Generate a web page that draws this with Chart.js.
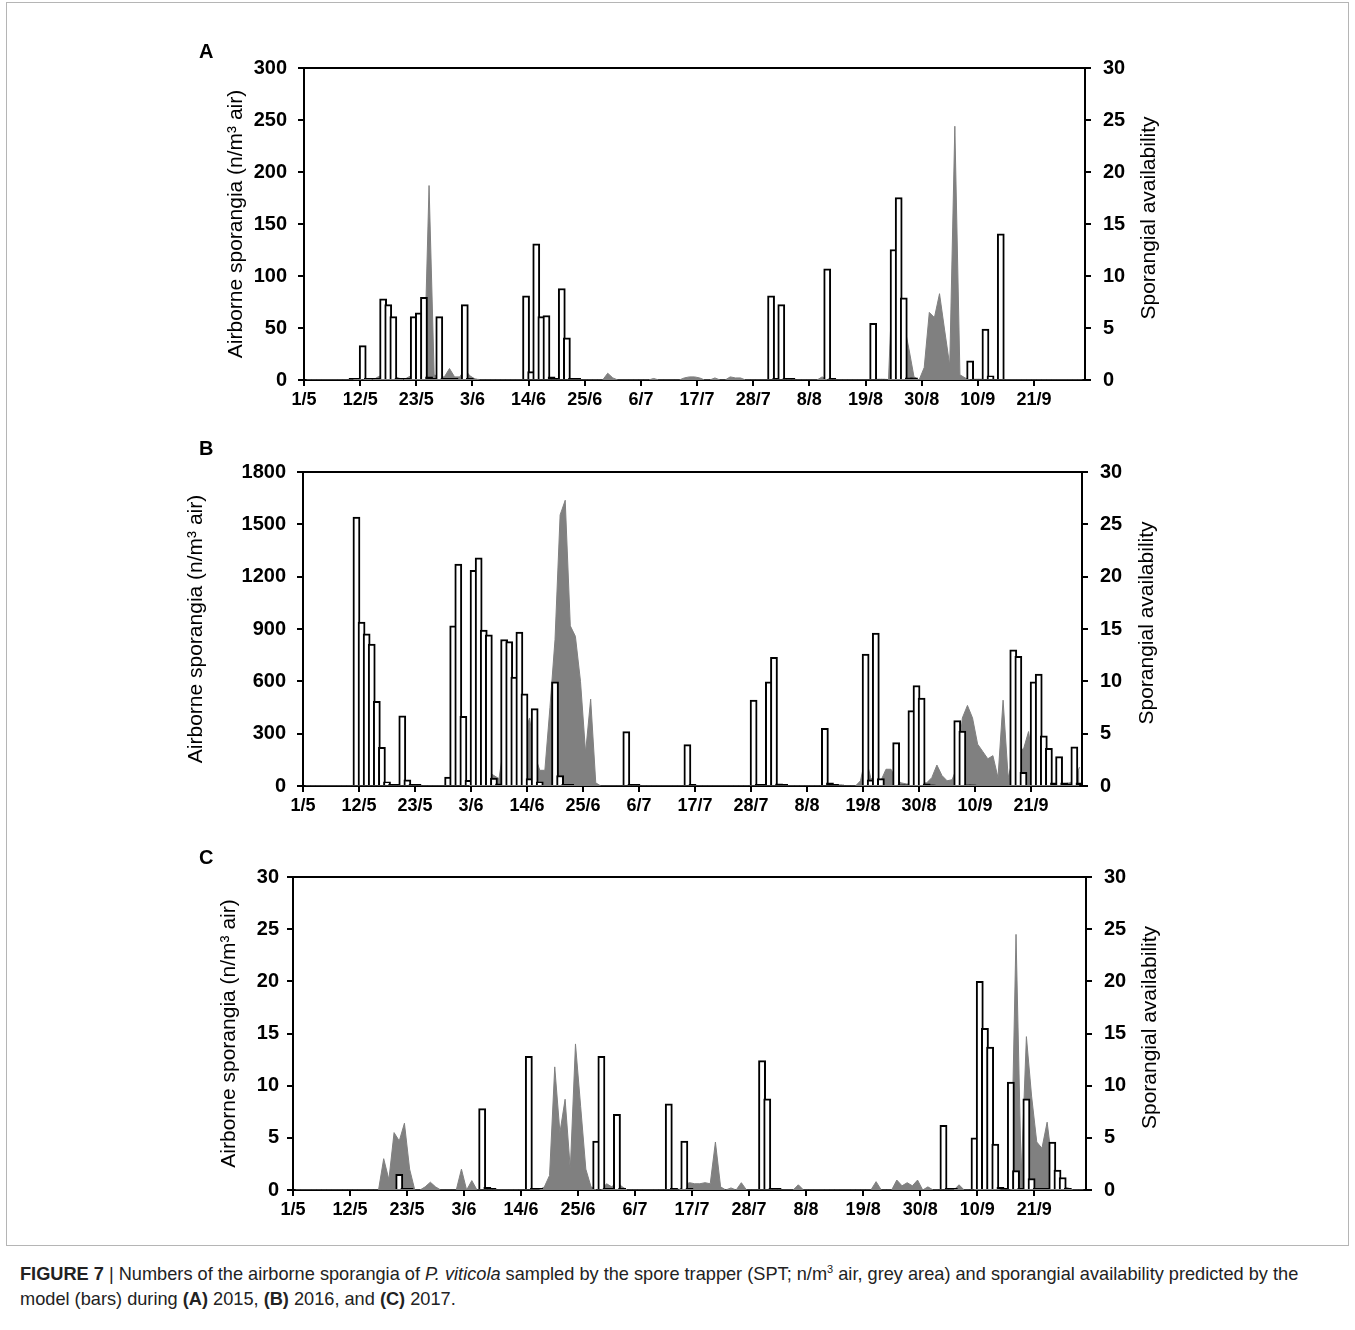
<!DOCTYPE html>
<html><head><meta charset="utf-8">
<script src="https://cdn.jsdelivr.net/npm/chart.js@4.4.1/dist/chart.umd.min.js"></script>
<style>
html,body{margin:0;padding:0;background:#fff;}
body{width:1355px;height:1330px;position:relative;overflow:hidden;font-family:"Liberation Sans",Arial,sans-serif;color:#000;}
.frame{position:absolute;left:6px;top:2px;width:1343px;height:1244px;border:1px solid #b5b5b5;box-sizing:border-box;}
canvas.panel{position:absolute;left:0;}
.letter{position:absolute;font:bold 20px/20px "Liberation Sans",Arial,sans-serif;}
.caption{position:absolute;left:20px;top:1262px;width:1330px;font-size:18.2px;line-height:25px;font-family:"Liberation Sans",Arial,sans-serif;white-space:nowrap;color:#222;}
</style></head><body>
<div class="frame"></div>
<canvas id="cA" class="panel" width="1355" height="386" style="top:44px"></canvas>
<canvas id="cB" class="panel" width="1355" height="388" style="top:448px"></canvas>
<canvas id="cC" class="panel" width="1355" height="387" style="top:853px"></canvas>
<div class="letter" style="left:199px;top:41px">A</div>
<div class="letter" style="left:199px;top:438px">B</div>
<div class="letter" style="left:199px;top:847px">C</div>
<div class="caption"><b>FIGURE 7</b> | Numbers of the airborne sporangia of <i>P. viticola</i> sampled by the spore trapper (SPT; n/m<sup style="font-size:11px;line-height:0">3</sup> air, grey area) and sporangial availability predicted by the<br>model (bars) during <b>(A)</b> 2015, <b>(B)</b> 2016, and <b>(C)</b> 2017.</div>
<script>
// ---- categories (days from 1 May to 30 Sep) ----
const monthDays = [[5,31],[6,30],[7,31],[8,31],[9,30]];
const dayLabels = [];
monthDays.forEach(([m,n]) => { for (let d = 1; d <= n; d++) dayLabels.push(d + '/' + m); });
const tickLabels = ['1/5','12/5','23/5','3/6','14/6','25/6','6/7','17/7','28/7','8/8','19/8','30/8','10/9','21/9'];
const tickEvery = 11;

// ---- 2015 (A) ----  [day index, value]
const barsA = [[9,0.15],[10,0.15],[11,3.3],[12,0.15],[13,0.15],[14,0.15],[15,7.8],[16,7.25],[17,6.1],[18,0.15],[19,0.15],[20,0.15],[21,6.1],[22,6.45],[23,7.95],[24,0.3],[25,0.15],[26,6.1],[27,0.15],[28,0.15],[29,0.15],[31,7.25],[32,0.15],[33,0.1],
[43,8.1],[44,0.8],[45,13.1],[46,6.1],[47,6.2],[48,0.3],[49,0.15],[50,8.8],[51,4.05],[52,0.15],[53,0.15],
[91,8.1],[92,0.15],[93,7.25],[94,0.15],[95,0.15],
[102,10.7],[103,0.15],[111,5.45],[112,0.1],[113,0.1],[115,12.55],[116,17.55],[117,7.9],[118,0.2],[119,0.2],[130,1.85],[131,0.1],[132,0.1],[133,4.9],[134,0.4],[136,14.05]];
const areaA = [[10,1],[12,1],[14,3],[15,5],[16,5],[17,4],[18,2],[20,3],[21,5],[22,2],[23,3],[24,187],[25,5],[26,3],[27,3],[28,11],[29,3],[30,3],[31,10],[32,4],[33,1],
[59,6.5],[60,2],[68,1.5],[74,2],[75,3],[76,3],[77,2],[80,2],[83,3],[84,2],[85,2],
[101,3],[115,120],[116,80],[117,55],[118,30],[119,3],[121,12],[122,65],[123,60],[124,83],[125,48],[126,14],[127,244],[128,5],[129,2]];

// ---- 2016 (B) ----
const barsB = [[10,25.7],[11,15.65],[12,14.55],[13,13.55],[14,8.1],[15,3.7],[16,0.4],[17,0.15],[18,0.15],[19,6.7],[20,0.6],[21,0.15],[22,0.15],
[28,0.85],[29,15.3],[30,21.2],[31,6.65],[32,0.55],[33,20.6],[34,21.8],[35,14.9],[36,14.45],[37,0.75],[38,0.2],[39,14.0],[40,13.8],[41,10.4],[42,14.7],[43,8.8],[44,0.7],[45,7.4],[46,0.4],
[49,9.95],[50,1.0],[51,0.15],[52,0.15],
[63,5.2],[64,0.15],[65,0.15],[75,3.95],[76,0.15],
[88,8.2],[89,0.15],[90,0.15],[91,9.95],[92,12.3],[93,0.2],[94,0.15],
[102,5.5],[103,0.3],[104,0.15],[105,0.1],
[110,12.6],[111,0.6],[112,14.6],[113,0.7],[116,4.15],[117,0.1],[118,0.1],[119,7.2],[120,9.6],[121,8.4],[122,0.2],[123,0.1],
[128,6.25],[129,5.25],[130,0.1],[131,0.1],
[139,13.0],[140,12.4],[141,1.3],[143,9.95],[144,10.7],[145,4.8],[146,3.6],[147,0.3],[148,2.8],[149,0.3],[150,0.2],[151,3.75],[152,0.3]];
const areaB = [[33,18],[34,258],[35,144],[36,78],[37,60],[38,42],[39,240],[40,90],[41,138],[42,204],[43,300],[44,390],[45,180],[46,90],[47,90],[48,450],[49,840],[50,1554],[51,1638],[52,918],[53,858],[54,600],[55,192],[56,498],[57,18],
[109,30],[110,168],[111,48],[112,18],[113,30],[114,96],[115,96],[116,36],[117,18],[118,12],[119,12],[120,12],[121,18],[122,18],[123,48],[124,120],[125,60],[126,30],[127,36],[128,114],[129,390],[130,462],[131,390],[132,240],[133,198],[134,156],[135,174],[136,48],[137,492],[138,48],[139,168],[140,216],[141,210],[142,312],[143,120],[144,48],[145,18],[146,12],[147,12],[148,12],[149,12],[150,18],[151,30],[152,108]];

// ---- 2017 (C) ----
const barsC = [[20,1.5],[21,0.15],[22,0.15],[36,7.8],[37,0.25],[38,0.15],[45,12.8],[46,0.15],[47,0.15],
[58,4.7],[59,12.8],[60,0.15],[61,0.15],[62,7.25],[63,0.15],[72,8.25],[73,0.15],[74,0.1],[75,4.7],[76,0.15],
[90,12.4],[91,8.75],[92,0.15],[93,0.15],
[125,6.2],[126,0.15],[127,0.15],[131,5.0],[132,20.0],[133,15.5],[134,13.7],[135,4.4],[136,0.25],[137,0.15],[138,10.35],[139,1.85],[140,0.15],[141,8.75],[142,1.1],[143,0.15],[144,0.15],[145,0.15],[146,4.6],[147,1.9],[148,1.2],[149,0.15]];
const areaC = [[17,3.0],[18,1.0],[19,5.5],[20,4.7],[21,6.4],[22,2.0],[25,0.3],[26,0.75],[27,0.3],[32,2.0],[34,0.9],
[48,0.3],[49,1.4],[50,11.8],[51,5.5],[52,8.7],[53,2.0],[54,14.0],[55,8.0],[56,2.0],[57,0.3],[60,0.6],[61,0.3],[62,0.8],[63,0.3],
[75,0.5],[76,0.7],[77,0.6],[78,0.6],[79,0.7],[80,0.6],[81,4.6],[82,0.3],[84,0.2],[86,0.7],[97,0.5],
[112,0.8],[116,0.95],[117,0.4],[118,0.7],[119,0.4],[120,0.95],[122,0.3],[128,0.5],
[132,1.0],[133,2.7],[134,1.5],[135,0.5],[139,24.5],[140,1.5],[141,14.7],[142,9.0],[143,4.6],[144,4.0],[145,6.5],[146,2.5],[147,1.0],[148,0.3],[149,0.2]];

const leftTitle = 'Airborne sporangia (n/m\u00B3 air)';
const rightTitleText = 'Sporangial availability';

function series(pairs) {
  const a = new Array(dayLabels.length).fill(0);
  pairs.forEach(([d, v]) => { a[d] = v; });
  return a;
}

const FAMILY = '"Liberation Sans", Arial, sans-serif';
Chart.defaults.color = '#000';
Chart.defaults.font.family = FAMILY;

const framePlugin = {
  id: 'framePlugin',
  afterDraw(chart, args, opts) {
    const {ctx, chartArea: ca} = chart;
    ctx.save();
    ctx.strokeStyle = '#000';
    ctx.lineWidth = 2;
    ctx.beginPath();
    ctx.moveTo(ca.left - 1, ca.top);
    ctx.lineTo(ca.right + 1, ca.top);
    ctx.stroke();
    ctx.font = '21px ' + FAMILY;
    ctx.fillStyle = '#000';
    ctx.textAlign = 'center';
    ctx.textBaseline = 'middle';
    ctx.translate(opts.x, (ca.top + ca.bottom) / 2 + opts.dy);
    ctx.rotate(-Math.PI / 2);
    ctx.fillText(rightTitleText, 0, 0);
    ctx.restore();
  }
};

function makePanel(id, cfg) {
  const tickGrid = {drawOnChartArea: false, drawTicks: true, tickLength: 6, lineWidth: 2, color: '#000'};
  const border = {display: true, color: '#000', width: 2};
  new Chart(document.getElementById(id), {
    data: {
      labels: dayLabels,
      datasets: [
        {type: 'bar', data: series(cfg.bars), yAxisID: 'yR', order: 0,
         backgroundColor: c => (c.raw < 0.35 ? '#000' : '#fff'),
         borderColor: '#000', borderWidth: 2, barThickness: cfg.barThickness, borderSkipped: 'start'},
        {type: 'line', data: series(cfg.area), yAxisID: 'yL', order: 1,
         borderColor: '#808080', backgroundColor: '#808080', borderWidth: 1,
         fill: 'origin', pointRadius: 0, tension: 0}
      ]
    },
    options: {
      responsive: false, animation: false, events: [],
      layout: {padding: {left: cfg.padL, right: cfg.padR, top: 20, bottom: 0}},
      plugins: {legend: {display: false}, tooltip: {enabled: false},
                framePlugin: {x: cfg.rtX, dy: cfg.rtDy}},
      scales: {
        x: {type: 'category', offset: true,
            grid: {offset: true, drawOnChartArea: false, drawTicks: true, tickLength: 6, lineWidth: 2,
                   color: c => (c.index % tickEvery === 0 ? '#000' : 'rgba(0,0,0,0)')},
            border: border,
            ticks: {autoSkip: false, maxRotation: 0, minRotation: 0, padding: 3, labelOffset: -cfg.band / 2,
                    font: {size: 18, weight: 'bold'}, color: '#000',
                    callback: (v, i) => (i % tickEvery === 0 ? tickLabels[i / tickEvery] : '')},
            afterFit: s => { s.height = 50; }},
        yL: {type: 'linear', position: 'left', min: 0, max: cfg.leftMax,
             ticks: {stepSize: cfg.leftStep, padding: cfg.tickPadL, font: {size: 20, weight: 'bold'}, color: '#000',
                     callback: v => String(v)},
             grid: tickGrid, border: border,
             title: {display: true, text: leftTitle, font: {size: 21}, color: '#000', padding: {top: 4, bottom: 4}},
             afterFit: s => { s.width = cfg.wL; }},
        yR: {type: 'linear', position: 'right', min: 0, max: 30,
             ticks: {stepSize: 5, padding: 12, font: {size: 20, weight: 'bold'}, color: '#000',
                     callback: v => String(v)},
             grid: tickGrid, border: border,
             afterFit: s => { s.width = cfg.wR; }}
      }
    },
    plugins: [framePlugin]
  });
}

makePanel('cA', {bars: barsA, area: areaA, leftMax: 300, leftStep: 50, padL: 220, wL: 84, padR: 150, wR: 120,
  band: 5.105, barThickness: 7.1, tickPadL: 11, rtX: 1149, rtDy: -6});
makePanel('cB', {bars: barsB, area: areaB, leftMax: 1800, leftStep: 300, padL: 180, wL: 123, padR: 150, wR: 123,
  band: 5.09, barThickness: 7.1, tickPadL: 11, rtX: 1147, rtDy: -6});
makePanel('cC', {bars: barsC, area: areaC, leftMax: 30, leftStep: 5, padL: 213, wL: 80, padR: 150, wR: 119,
  band: 5.18, barThickness: 7.2, tickPadL: 8, rtX: 1150, rtDy: -6});
</script>
</body></html>
